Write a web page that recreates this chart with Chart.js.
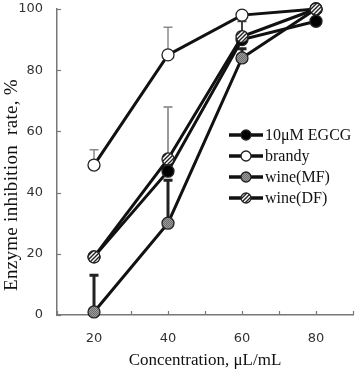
<!DOCTYPE html>
<html>
<head>
<meta charset="utf-8">
<script src="https://cdn.jsdelivr.net/npm/chart.js@4.4.1/dist/chart.umd.min.js"></script>
<style>
html,body{margin:0;padding:0;background:#fff;}
#wrap{width:360px;height:370px;position:relative;}
</style>
</head>
<body>
<div id="wrap"><canvas id="c" width="360" height="370"></canvas></div>
<script>
// ---- data ----
const concentrations = [20, 40, 60, 80];
const egcg   = [19, 47, 90, 96];
const brandy = [49, 85, 98, 100];
const wineMF = [1, 30, 84, 100];
const wineDF = [19, 51, 91, 100];
// upper error bars
const egcgErr   = [0, 0, 0, 0];
const brandyErr = [5, 9, 0, 0];
const wineMFErr = [12, 14, 3, 0];
const wineDFErr = [0, 17, 5, 0];
const seriesNames = ['10μM EGCG', 'brandy', 'wine(MF)', 'wine(DF)'];
const xTickLabels = [20, 40, 60, 80];
const yTicks = [0, 20, 40, 60, 80, 100];

// ---- patterns ----
function stripePattern(){
  const c = document.createElement('canvas'); c.width = 4; c.height = 4;
  const g = c.getContext('2d');
  g.fillStyle = '#fff'; g.fillRect(0,0,4,4);
  g.strokeStyle = '#222'; g.lineWidth = 1.4;
  g.beginPath();
  g.moveTo(0,4); g.lineTo(4,0);
  g.moveTo(-1,1); g.lineTo(1,-1);
  g.moveTo(3,5); g.lineTo(5,3);
  g.stroke();
  return g.createPattern(c,'repeat');
}
function checkerPattern(){
  const c = document.createElement('canvas'); c.width = 2; c.height = 2;
  const g = c.getContext('2d');
  g.fillStyle = '#9a9a9a'; g.fillRect(0,0,2,2);
  g.fillStyle = '#6e6e6e'; g.fillRect(0,0,1,1); g.fillRect(1,1,1,1);
  return g.createPattern(c,'repeat');
}
const stripes = stripePattern();
const checker = checkerPattern();

const toPts = arr => concentrations.map((x,i)=>({x:x, y:arr[i]}));
const base = {borderColor:'#111', borderWidth:3, pointRadius:6, pointBorderColor:'#222', pointBorderWidth:1.3, clip:false, tension:0};

const datasets = [
  Object.assign({}, base, {label:seriesNames[0], data:toPts(egcg), pointBackgroundColor:'#000', order:3, errs:egcgErr, errColor:'#222', errWidth:2}),
  Object.assign({}, base, {label:seriesNames[1], data:toPts(brandy), pointBackgroundColor:'#fff', order:2, errs:brandyErr, errColor:'#8a8a8a', errWidth:1.5}),
  Object.assign({}, base, {label:seriesNames[2], data:toPts(wineMF), pointBackgroundColor:checker, order:1, errs:wineMFErr, errColor:'#222', errWidth:3}),
  Object.assign({}, base, {label:seriesNames[3], data:toPts(wineDF), pointBackgroundColor:stripes, order:0, errs:wineDFErr, errColor:'#444', errWidth:2}),
];
const errColorOverride = {'3-1':'#9a9a9a'};

const custom = {
  id:'custom',
  beforeDatasetsDraw(chart){
    const ctx = chart.ctx, xs = chart.scales.x, ys = chart.scales.y;
    ctx.save();
    ctx.strokeStyle = '#777'; ctx.lineWidth = 1.2;
    xs.ticks.forEach(t=>{
      const px = Math.round(xs.getPixelForValue(t.value))+0.5;
      ctx.beginPath(); ctx.moveTo(px, ys.bottom); ctx.lineTo(px, ys.bottom-4); ctx.stroke();
    });
    ys.ticks.forEach(t=>{
      const py = Math.round(ys.getPixelForValue(t.value))+0.5;
      ctx.beginPath(); ctx.moveTo(xs.left, py); ctx.lineTo(xs.left+4, py); ctx.stroke();
    });
    chart.data.datasets.forEach((ds,di)=>{
      ds.data.forEach((p,i)=>{
        const e = ds.errs[i]; if(!e) return;
        const px = xs.getPixelForValue(p.x);
        const y0 = ys.getPixelForValue(p.y), y1 = ys.getPixelForValue(p.y+e);
        ctx.strokeStyle = errColorOverride[di+'-'+i] || ds.errColor;
        ctx.lineWidth = ds.errWidth;
        ctx.beginPath();
        ctx.moveTo(px, y0); ctx.lineTo(px, y1);
        ctx.moveTo(px-4.5, y1); ctx.lineTo(px+4.5, y1);
        ctx.stroke();
      });
    });
    ctx.restore();
  },
  afterDraw(chart){
    const ctx = chart.ctx;
    ctx.save();
    ctx.translate(12, 185);
    ctx.rotate(-Math.PI/2);
    ctx.fillStyle = '#111';
    ctx.font = '19px "Liberation Serif", "Times New Roman", serif';
    try { ctx.letterSpacing = '0.3px'; } catch(e) {}
    ctx.textAlign = 'center'; ctx.textBaseline = 'middle';
    ctx.fillText('Enzyme inhibition  rate, %', 0, 0);
    ctx.restore();
    ctx.save();
    const rows = [135, 156, 177, 198];
    chart.data.datasets.forEach((ds,i)=>{
      const y = rows[i];
      ctx.strokeStyle = '#111'; ctx.lineWidth = 3.5;
      ctx.beginPath(); ctx.moveTo(229, y); ctx.lineTo(263, y); ctx.stroke();
      ctx.beginPath(); ctx.arc(246, y, 5, 0, Math.PI*2);
      ctx.fillStyle = ds.pointBackgroundColor; ctx.fill();
      ctx.lineWidth = 1.3; ctx.strokeStyle = '#222'; ctx.stroke();
      ctx.fillStyle = '#111';
      ctx.font = '16px "Liberation Serif", "Times New Roman", serif';
      ctx.textAlign = 'left'; ctx.textBaseline = 'middle';
      ctx.fillText(ds.label, 265, y+1);
    });
    ctx.restore();
  }
};

function zeroPad(s){ s.paddingTop = 0; s.paddingBottom = 0; s.paddingLeft = 0; s.paddingRight = 0; }

new Chart(document.getElementById('c'), {
  type:'line',
  data:{datasets:datasets},
  options:{
    responsive:false, animation:false,
    layout:{autoPadding:false, padding:{top:9, right:7, left:0, bottom:0}},
    plugins:{legend:{display:false}, tooltip:{enabled:false}},
    scales:{
      x:{
        type:'linear', min:10, max:90,
        grid:{display:false, drawTicks:false},
        border:{display:true, color:'#777', width:1.5},
        ticks:{stepSize:10, padding:16, color:'#333', font:{family:'"DejaVu Sans"', size:13},
          callback:v=> xTickLabels.includes(v) ? String(v) : ''},
        title:{display:true, text:'Concentration, μL/mL', color:'#111',
          font:{family:'"Liberation Serif", "Times New Roman", serif', size:17}, padding:{top:0,bottom:-1}},
        afterFit:s=>{s.height = 55; zeroPad(s);}
      },
      y:{
        min:0, max:100,
        grid:{display:false, drawTicks:false},
        border:{display:true, color:'#777', width:1.5},
        ticks:{stepSize:20, padding:14, color:'#333', font:{family:'"DejaVu Sans"', size:13},
          callback:v=> yTicks.includes(v) ? String(v) : ''},
        afterFit:s=>{s.width = 57; zeroPad(s);}
      }
    }
  },
  plugins:[custom]
});
</script>
</body>
</html>
